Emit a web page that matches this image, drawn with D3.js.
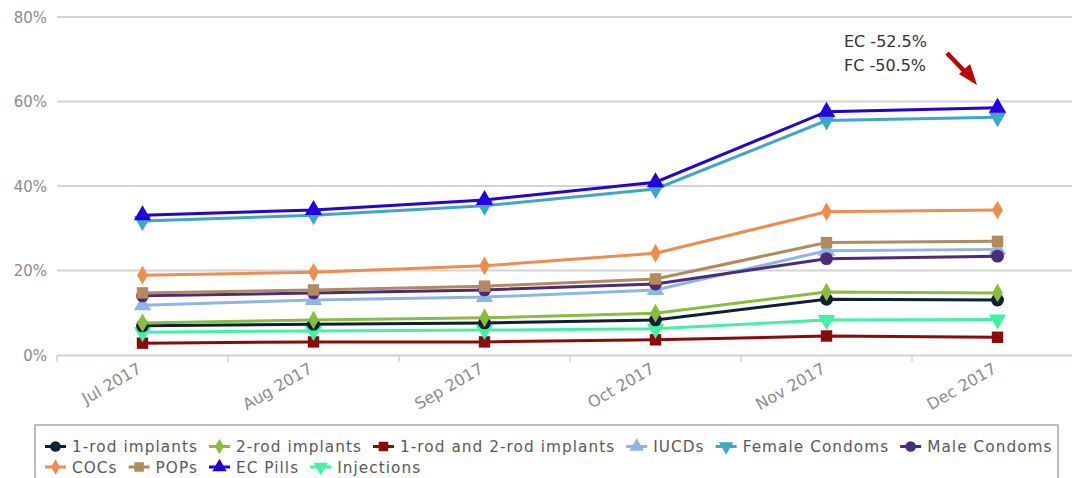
<!DOCTYPE html>
<html><head><meta charset="utf-8">
<script src="https://cdn.jsdelivr.net/npm/d3@7"></script>
<style>
body{margin:0;background:#fff;}
svg{display:block;font-family:"DejaVu Sans","Lato",sans-serif;}
</style></head>
<body>
<svg id="chart" width="1072" height="478"></svg>
<script>
const months = ["Jul 2017","Aug 2017","Sep 2017","Oct 2017","Nov 2017","Dec 2017"];
const yTicks = [0,20,40,60,80];
const seriesNames = ["1-rod implants","2-rod implants","1-rod and 2-rod implants","IUCDs","Female Condoms","Male Condoms","COCs","POPs","EC Pills","Injections"];
const rod1 = [6.9,7.3,7.6,8.3,13.2,13.0];
const rod2 = [7.6,8.3,8.8,9.9,14.9,14.7];
const rod12 = [2.8,3.1,3.1,3.6,4.5,4.2];
const iucds = [11.8,13.0,13.7,15.4,24.7,25.0];
const femaleCondoms = [31.7,33.1,35.3,39.3,55.5,56.3];
const maleCondoms = [14.0,14.7,15.4,16.8,22.8,23.4];
const cocs = [18.9,19.6,21.1,24.1,33.9,34.3];
const pops = [14.7,15.4,16.3,18.0,26.6,26.9];
const ecPills = [33.1,34.3,36.7,40.9,57.6,58.5];
const injections = [5.4,5.7,5.9,6.2,8.3,8.4];
const annotations = ["EC -52.5%","FC -50.5%"];

(function(){
const colors = ["#0e1f3a","#8abd3a","#8e0a0a","#8fb4e6","#3aa9c9","#4b2c7c","#f28c4c","#b28a5c","#2400e6","#3ef3a2"];
const shapes = [d3.symbolCircle,d3.symbolDiamond,d3.symbolSquare,d3.symbolTriangle,"down",d3.symbolCircle,d3.symbolDiamond,d3.symbolSquare,d3.symbolTriangle,"down"];
const values = [rod1,rod2,rod12,iucds,femaleCondoms,maleCondoms,cocs,pops,ecPills,injections];
const order = [2,9,0,1,3,5,7,6,4,8];

const svg = d3.select("#chart");
const pLeft = 57, pRight = 1083, pTop = 17, pBottom = 355;
const x = d3.scaleBand().domain(months).range([pLeft,pRight]);
const y = d3.scaleLinear().domain([0,80]).range([pBottom,pTop]);
const cxOf = m => x(m) + x.bandwidth()/2;

svg.append("g").selectAll("line").data(yTicks.filter(d=>d>0)).join("line")
  .attr("x1",pLeft).attr("x2",1072).attr("y1",d=>y(d)).attr("y2",d=>y(d))
  .attr("stroke","#d4d4d4").attr("stroke-width",2);

svg.append("g").selectAll("text").data(yTicks).join("text")
  .attr("x",47).attr("y",d=>y(d)+5.5).attr("text-anchor","end")
  .attr("fill","#8c8c8c").attr("font-size",15).text(d=>d+"%");

const xa = svg.append("g").attr("transform",`translate(0,${pBottom})`)
  .call(d3.axisBottom(x).tickSize(0).tickFormat(""));
xa.select(".domain").attr("stroke","#c9d3e3").attr("stroke-width",2);
xa.selectAll(".tick").remove();
svg.append("g").selectAll("line").data(months).join("line")
  .attr("x1",d=>x(d)).attr("x2",d=>x(d)).attr("y1",pBottom).attr("y2",pBottom+7)
  .attr("stroke","#c9d3e3").attr("stroke-width",1.5);
svg.append("g").selectAll("text").data(months).join("text")
  .attr("transform",d=>`translate(${cxOf(d)},${pBottom+17}) rotate(-30)`)
  .attr("text-anchor","end").attr("fill","#8c8c8c").attr("font-size",16)
  .text(d=>d);

function sym(shape,size){
  if(shape==="down") return d3.symbol(d3.symbolTriangle,size)();
  return d3.symbol(shape,size)();
}
const line = d3.line().x((d,i)=>cxOf(months[i])).y(d=>y(d));
order.forEach(k=>{
  const g = svg.append("g");
  g.append("path").attr("d",line(values[k])).attr("fill","none")
    .attr("stroke",colors[k]).attr("stroke-width",3);
  g.selectAll("path.m").data(values[k]).join("path").attr("class","m")
    .attr("d",sym(shapes[k],shapes[k]===d3.symbolDiamond?100:130))
    .attr("transform",(d,i)=>`translate(${cxOf(months[i])},${y(d)})${shapes[k]==="down"?" rotate(180)":""}`)
    .attr("fill",colors[k]);
});

// annotation
svg.append("g").selectAll("text").data(annotations).join("text")
  .attr("x",844).attr("y",(d,i)=>47+i*23.5).attr("fill","#333")
  .attr("font-size",16).text(d=>d);
svg.append("line").attr("x1",947).attr("y1",53).attr("x2",968).attr("y2",75)
  .attr("stroke","#c40000").attr("stroke-width",4.5);
svg.append("path").attr("d","M959,74 L977,85 L970,64 Z").attr("fill","#c40000");

// legend
svg.append("rect").attr("x",35).attr("y",425).attr("width",1023).attr("height",70)
  .attr("fill","none").attr("stroke","#a8a8a8").attr("stroke-width",1.5);
const rows = [[0,1,2,3,4,5],[6,7,8,9]];
rows.forEach((row,ri)=>{
  let cx = 45;
  const cy = 446.5 + ri*20.5;
  row.forEach(k=>{
    const g = svg.append("g");
    g.append("line").attr("x1",cx).attr("x2",cx+21).attr("y1",cy).attr("y2",cy)
      .attr("stroke",colors[k]).attr("stroke-width",3);
    g.append("path").attr("d",sym(shapes[k],shapes[k]===d3.symbolDiamond?70:90))
      .attr("transform",`translate(${cx+10.5},${cy})${shapes[k]==="down"?" rotate(180)":""}`)
      .attr("fill",colors[k]);
    const t = g.append("text").attr("x",cx+27).attr("y",cy+5.5).attr("fill","#595959")
      .attr("font-size",15.3).attr("letter-spacing",1.05).text(seriesNames[k]);
    cx += 27 + t.node().getComputedTextLength() + 11;
  });
});
})();
</script>
</body></html>
